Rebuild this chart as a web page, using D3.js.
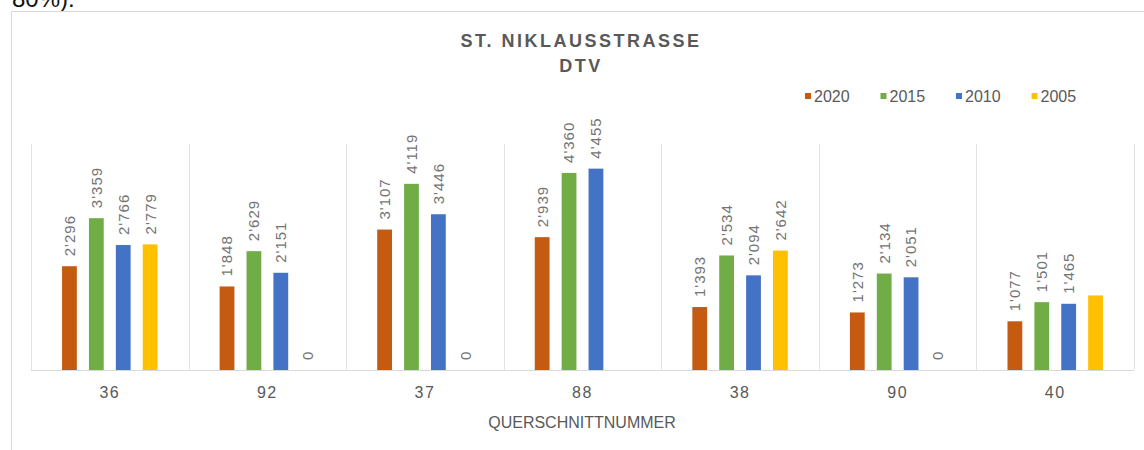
<!DOCTYPE html>
<html>
<head>
<meta charset="utf-8">
<script src="https://cdn.jsdelivr.net/npm/d3@7"></script>
<style>
  body { margin: 0; background: #fff; }
  svg { display: block; font-family: "Liberation Sans", Arial, sans-serif; }
</style>
</head>
<body>
<svg id="chart" width="1144" height="450"></svg>
<script>
// Querschnitte and years
const categories = ["36", "92", "37", "88", "38", "90", "40"];
const years = ["2020", "2015", "2010", "2005"];

// DTV per year (null = no measurement)
const dtv2020 = [2296, 1848, 3107, 2939, 1393, 1273, 1077];
const dtv2015 = [3359, 2629, 4119, 4360, 2534, 2134, 1501];
const dtv2010 = [2766, 2151, 3446, 4455, 2094, 2051, 1465];
const dtv2005 = [2779, 0, 0, null, 2642, 0, 1650];

// labels not shown in the original
const hiddenLabels = [["40", "2005"]];

const colors = ["#c55a11", "#70ad47", "#4472c4", "#ffc000"];
const yTicks = [0, 5000];

let series = [dtv2020, dtv2015, dtv2010, dtv2005];
let rows = [];
categories.forEach((c, i) => {
  years.forEach((y, j) => {
    rows.push({ cat: c, year: y, value: series[j][i] });
  });
});

let svg = d3.select("#chart");
let w = +svg.attr("width");
let h = +svg.attr("height");
let margins = { "top": 144, "right": 10, "bottom": 80, "left": 31 };

// leftover line of text above the chart
svg.append("text")
  .attr("x", 12)
  .attr("y", 7)
  .attr("font-size", 24)
  .attr("fill", "#111")
  .text("80%).");

// chart frame
svg.append("rect")
  .attr("x", 11.5)
  .attr("y", 11.5)
  .attr("width", w)
  .attr("height", h)
  .attr("fill", "none")
  .attr("stroke", "#d9d9d9");

let x0 = d3.scaleBand().domain(categories).range([margins.left, 1134]);
let x1 = d3.scaleBand().domain(years).range([25, x0.bandwidth() - 25])
  .paddingInner(0.45).paddingOuter(0.225);
let y = d3.scaleLinear().domain(d3.extent(yTicks)).range([370, margins.top]);
let color = d3.scaleOrdinal().domain(years).range(colors);

// separators between categories
let seps = categories.map(c => x0(c)).concat([x0.range()[1]]);
svg.append("g").attr("id", "grid")
  .selectAll("line").data(seps).join("line")
  .attr("x1", d => Math.round(d) + 0.5)
  .attr("x2", d => Math.round(d) + 0.5)
  .attr("y1", y(5000))
  .attr("y2", y(0))
  .attr("stroke", "#e3e3e3");

// bars
let bars = svg.append("g").attr("id", "bars");
bars.selectAll("rect").data(rows.filter(d => d.value)).join("rect")
  .attr("x", d => x0(d.cat) + x1(d.year))
  .attr("y", d => y(d.value))
  .attr("width", x1.bandwidth())
  .attr("height", d => y(0) - y(d.value))
  .attr("fill", d => color(d.year));

// baseline
svg.append("line")
  .attr("x1", x0.range()[0])
  .attr("x2", x0.range()[1])
  .attr("y1", y(0) + 0.5)
  .attr("y2", y(0) + 0.5)
  .attr("stroke", "#d9d9d9");

// value labels, rotated
let isHidden = d => hiddenLabels.some(p => p[0] === d.cat && p[1] === d.year);
svg.append("g").attr("id", "labels")
  .selectAll("text").data(rows.filter(d => d.value !== null && !isHidden(d))).join("text")
  .attr("transform", d => "translate(" + (x0(d.cat) + x1(d.year) + x1.bandwidth() / 2)
    + "," + (y(d.value) - 10) + ") rotate(-90)")
  .attr("dy", "0.36em")
  .attr("font-size", 15)
  .attr("letter-spacing", 1)
  .attr("fill", "#737373")
  .text(d => d3.format(",")(d.value).replace(",", "'"));

// category axis
let xAxis = svg.append("g")
  .attr("transform", "translate(0," + y(0) + ")")
  .call(d3.axisBottom(x0).tickSize(0).tickPadding(17));
xAxis.select(".domain").remove();
xAxis.selectAll("text")
  .attr("font-size", 16)
  .attr("letter-spacing", 1.5)
  .attr("fill", "#595959");

svg.append("text")
  .attr("x", 582)
  .attr("y", 428)
  .attr("text-anchor", "middle")
  .attr("font-size", 16)
  .attr("fill", "#595959")
  .text("QUERSCHNITTNUMMER");

// title
let title = svg.append("text")
  .attr("text-anchor", "middle")
  .attr("font-size", 18)
  .attr("font-weight", "bold")
  .attr("letter-spacing", 2.5)
  .attr("fill", "#595959");
title.append("tspan").attr("x", 581).attr("y", 47).text("ST. NIKLAUSSTRASSE");
title.append("tspan").attr("x", 581).attr("y", 72).text("DTV");

// legend
let legend = svg.append("g").attr("id", "legend")
  .selectAll("g").data(years).join("g")
  .attr("transform", (d, i) => "translate(" + (805 + i * 75.5) + ",96)");
legend.append("rect")
  .attr("x", 0)
  .attr("y", -3)
  .attr("width", 6)
  .attr("height", 6)
  .attr("fill", d => color(d));
legend.append("text")
  .attr("x", 9)
  .attr("dy", "0.36em")
  .attr("font-size", 16)
  .attr("fill", "#595959")
  .text(d => d);
</script>
</body>
</html>
